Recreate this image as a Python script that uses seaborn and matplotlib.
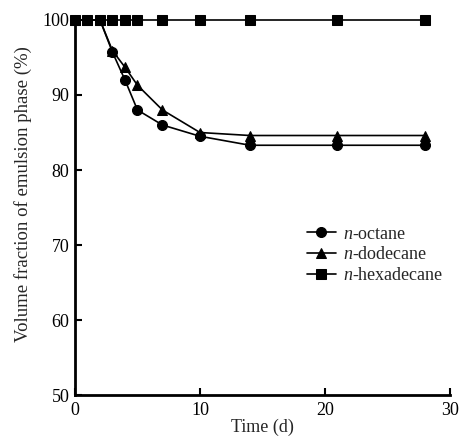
import matplotlib
matplotlib.use("Agg")
import matplotlib.pyplot as plt
import seaborn as sns
import pandas as pd

days = [0, 1, 2, 3, 4, 5, 7, 10, 14, 21, 28]
octane = [100, 100, 100, 95.7, 92.0, 88.0, 86.0, 84.5, 83.3, 83.3, 83.3]
dodecane = [100, 100, 100, 95.9, 93.7, 91.3, 88.0, 85.0, 84.6, 84.6, 84.6]
hexadecane = [100, 100, 100, 100, 100, 100, 100, 100, 100, 100, 100]
names = ["n-octane", "n-dodecane", "n-hexadecane"]
labels = [r"$\it{n}$-octane", r"$\it{n}$-dodecane", r"$\it{n}$-hexadecane"]

sns.set_style("ticks")
plt.rcParams["font.family"] = ["Liberation Serif", "DejaVu Serif"]
plt.rcParams["mathtext.fontset"] = "custom"
plt.rcParams["mathtext.it"] = "Liberation Serif:italic"
plt.rcParams["mathtext.rm"] = "Liberation Serif"

rows = []
for n, vals in zip(names, [octane, dodecane, hexadecane]):
    for d, v in zip(days, vals):
        rows.append({"Time": d, "Value": v, "Oil": n})
df = pd.DataFrame(rows)

fig = plt.figure(figsize=(4.6, 4.43), dpi=100)
ax = fig.add_axes([0.163, 0.108, 0.815, 0.847])
sns.lineplot(data=df, x="Time", y="Value", hue="Oil", style="Oil",
             markers=["o", "^", "s"], dashes=False,
             palette=["black"] * 3, markersize=7.2, linewidth=1.2,
             markeredgecolor="black", ax=ax, clip_on=False)

ax.set_xlim(0, 30)
ax.set_ylim(50, 100)
ax.set_xticks([0, 10, 20, 30])
ax.set_yticks([50, 60, 70, 80, 90, 100])
ax.tick_params(direction="in", length=5, width=1.5, labelsize=13, colors="black")
ax.tick_params(axis="x", pad=5)
ax.tick_params(axis="y", pad=4)
for s in ["top", "right"]:
    ax.spines[s].set_visible(False)
for s in ["left", "bottom"]:
    ax.spines[s].set_linewidth(2)
    ax.spines[s].set_color("black")
ax.set_xlabel("Time (d)", fontsize=13, labelpad=0)
ax.set_ylabel("Volume fraction of emulsion phase (%)", fontsize=13.5, labelpad=3)
ax.yaxis.set_label_coords(-0.115, 0.535)

handles, _ = ax.get_legend_handles_labels()
ax.legend(handles[-3:], labels, loc="upper left", bbox_to_anchor=(0.575, 0.495),
          frameon=False, fontsize=13, handlelength=1.6, handletextpad=0.4,
          labelspacing=0.2)

fig.savefig("out.png", dpi=100)
